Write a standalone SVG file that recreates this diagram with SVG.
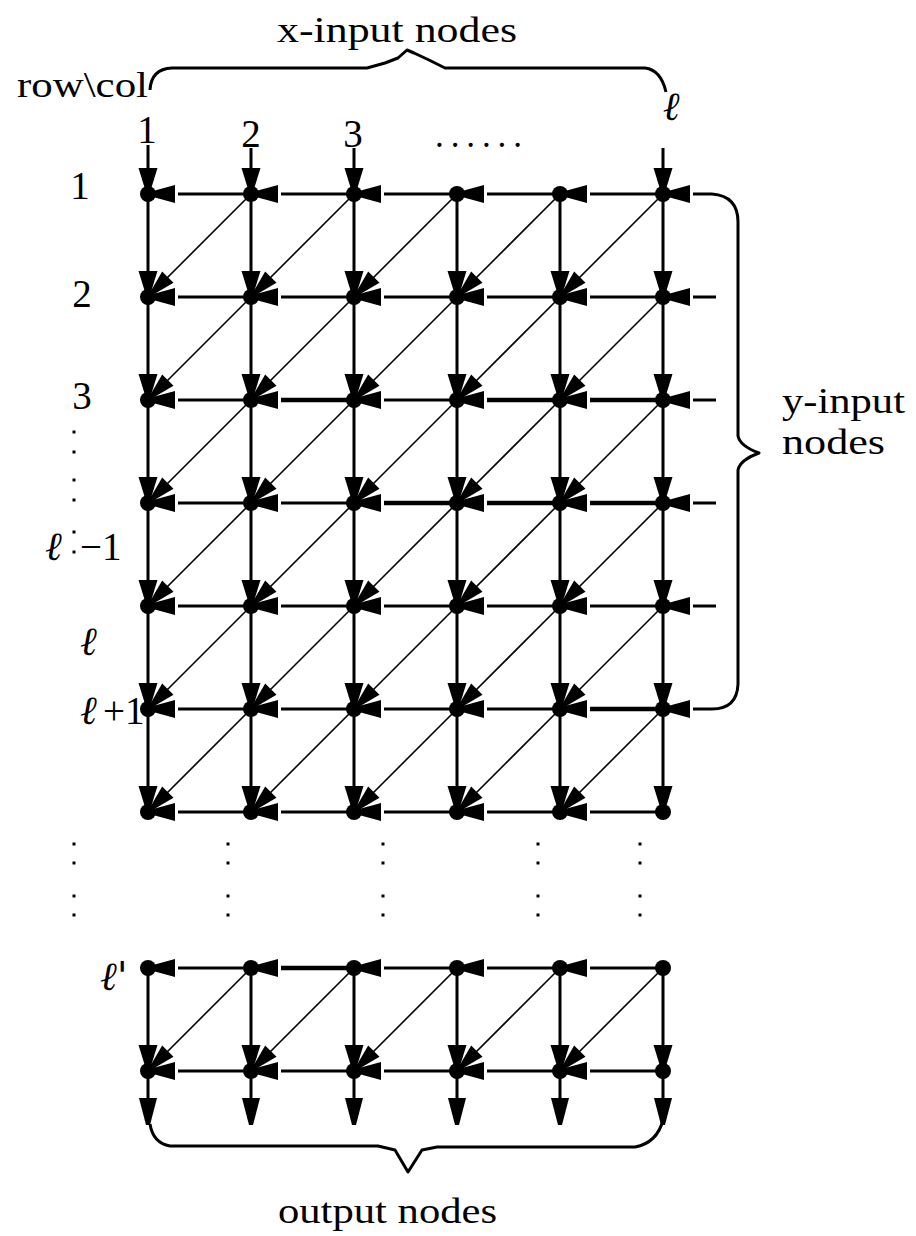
<svg xmlns="http://www.w3.org/2000/svg" xmlns:xlink="http://www.w3.org/1999/xlink" width="916" height="1236" viewBox="0 0 916 1236">
<style>
.t{font-family:"Liberation Serif","DejaVu Serif",serif;font-size:35px;fill:#000}
.d{font-family:"Liberation Serif","DejaVu Serif",serif;font-size:39px;fill:#000}
.l{font-family:"DejaVu Serif","Liberation Serif",serif;font-size:40px;font-style:italic;fill:#000}
.v{stroke:#000;stroke-width:3;fill:none}
.h{stroke:#000;stroke-width:3;fill:none}
.hb{stroke:#000;stroke-width:4.5;fill:none}
.g{stroke:#000;stroke-width:1.6;fill:none}
.br{stroke:#000;stroke-width:3;fill:none;stroke-linejoin:round}
</style>
<defs>
<circle id="dot" r="8" fill="#000"/>
<path id="ad" d="M-3,0 L-9.5,-21 L9.5,-21 L3,0 Z" fill="#000"/>
<path id="ao" d="M-2,0 L-9,-27 L9,-27 L2,0 Z" fill="#000"/>
<path id="al" d="M0,-3 L22,-9 L22,9 L0,3 Z" fill="#000"/>
<path id="ag" d="M0,-2.5 L21,-8 L21,8 L0,2.5 Z" fill="#000"/>
<rect id="pt" x="-1.5" y="-1.5" width="3" height="3" fill="#000"/>
</defs>
<rect width="916" height="1236" fill="#fff"/>

<g id="labels">
<text class="t" x="277" y="42" textLength="240" lengthAdjust="spacingAndGlyphs">x-input nodes</text>
<text class="t" x="17" y="97" textLength="131" lengthAdjust="spacingAndGlyphs">row\col</text>
<text class="d" x="147" y="143" text-anchor="middle">1</text>
<text class="d" x="251" y="147" text-anchor="middle">2</text>
<text class="d" x="353" y="147" text-anchor="middle">3</text>
<text class="t" x="435" y="147" textLength="87" lengthAdjust="spacing">......</text>
<text class="l" x="671" y="120" text-anchor="middle">ℓ</text>
<text class="d" x="80" y="199" text-anchor="middle">1</text>
<text class="d" x="82" y="307" text-anchor="middle">2</text>
<text class="d" x="82" y="409" text-anchor="middle">3</text>
<text class="l" x="45" y="560">ℓ</text>
<text class="d" x="80" y="560">−1</text>
<text class="l" x="80" y="655">ℓ</text>
<text class="l" x="80" y="724">ℓ</text>
<text class="d" x="103" y="724" font-size="35">+1</text>
<text class="l" x="100" y="990">ℓ'</text>
<text class="t" x="782" y="413" textLength="123" lengthAdjust="spacingAndGlyphs">y-input</text>
<text class="t" x="782" y="454" textLength="103" lengthAdjust="spacingAndGlyphs">nodes</text>
<text class="t" x="278" y="1223" textLength="219" lengthAdjust="spacingAndGlyphs">output nodes</text>
</g>

<g id="ellipsis">
<use href="#pt" x="74" y="432"/><use href="#pt" x="74" y="452"/><use href="#pt" x="74" y="480"/><use href="#pt" x="74" y="500"/><use href="#pt" x="74" y="532"/><use href="#pt" x="74" y="552"/>
<use href="#pt" x="74" y="844"/><use href="#pt" x="74" y="863"/><use href="#pt" x="74" y="896"/><use href="#pt" x="74" y="915"/>
<use href="#pt" x="228" y="844"/><use href="#pt" x="228" y="863"/><use href="#pt" x="228" y="896"/><use href="#pt" x="228" y="915"/>
<use href="#pt" x="383" y="844"/><use href="#pt" x="383" y="863"/><use href="#pt" x="383" y="896"/><use href="#pt" x="383" y="915"/>
<use href="#pt" x="538" y="844"/><use href="#pt" x="538" y="863"/><use href="#pt" x="538" y="896"/><use href="#pt" x="538" y="915"/>
<use href="#pt" x="640" y="844"/><use href="#pt" x="640" y="863"/><use href="#pt" x="640" y="896"/><use href="#pt" x="640" y="915"/>
</g>

<g id="braces">
<path class="br" d="M150,90 Q151,69 172,68 H367 L385,63 L398,58 L407,50 L414,53 L429,60 L445,68 H645 Q661,70 666,92"/>
<path class="br" d="M693,194 H712 Q738,196 738,222 V436 Q740,446 759,453 Q740,460 738,470 V684 Q737,709 712,709 H693"/>
<path class="br" d="M150,1124 Q153,1143 170,1146 H378 L395,1150 L408,1172 L422,1150 L437,1147 H635 Q657,1143 663,1120"/>
</g>

<g id="connectors">
<path class="v" d="M148,145 V812 M251,148 V812 M354,148 V812 M457,194 V812 M560,194 V812 M663,148 V812"/>
<path class="v" d="M148,968 V1115 M251,968 V1115 M354,968 V1115 M457,968 V1115 M560,968 V1115 M663,968 V1115"/>
<path class="h" d="M178,194 H251 M281,194 H354 M384,194 H457 M487,194 H560 M590,194 H663"/>
<path class="h" d="M178,297 H251 M281,297 H354 M384,297 H457 M487,297 H560 M590,297 H663 M693,297 H716"/>
<path class="h" d="M178,400 H251 M384,400 H457 M693,400 H716"/>
<path class="hb" d="M281,400 H354 M487,400 H560 M590,400 H663"/>
<path class="h" d="M178,503 H251 M281,503 H354 M693,503 H716"/>
<path class="hb" d="M384,503 H457 M487,503 H560 M590,503 H663"/>
<path class="h" d="M178,606 H251 M281,606 H354 M384,606 H457 M487,606 H560 M590,606 H663 M693,606 H716"/>
<path class="h" d="M178,709 H251 M281,709 H354 M384,709 H457 M487,709 H560"/>
<path class="hb" d="M590,709 H663"/>
<path class="h" d="M178,812 H251 M281,812 H354 M384,812 H457 M487,812 H560 M590,812 H663"/>
<path class="h" d="M178,968 H251 M384,968 H457 M487,968 H560 M590,968 H663"/>
<path class="hb" d="M281,968 H354"/>
<path class="h" d="M178,1071 H251 M281,1071 H354 M384,1071 H457 M487,1071 H560 M590,1071 H663"/>
<path class="g" d="M251,194 L156,289 M354,194 L259,289 M457,194 L362,289 M560,194 L465,289 M663,194 L568,289"/>
<path class="g" d="M251,297 L156,392 M354,297 L259,392 M457,297 L362,392 M560,297 L465,392 M663,297 L568,392"/>
<path class="g" d="M251,400 L156,495 M354,400 L259,495 M457,400 L362,495 M560,400 L465,495 M663,400 L568,495"/>
<path class="g" d="M251,503 L156,598 M354,503 L259,598 M457,503 L362,598 M560,503 L465,598 M663,503 L568,598"/>
<path class="g" d="M251,606 L156,701 M354,606 L259,701 M457,606 L362,701 M560,606 L465,701 M663,606 L568,701"/>
<path class="g" d="M251,709 L156,804 M354,709 L259,804 M457,709 L362,804 M560,709 L465,804 M663,709 L568,804"/>
<path class="g" d="M251,968 L156,1063 M354,968 L259,1063 M457,968 L362,1063 M560,968 L465,1063 M663,968 L568,1063"/>
<use href="#ao" x="148" y="1125"/><use href="#ao" x="251" y="1125"/><use href="#ao" x="354" y="1125"/><use href="#ao" x="457" y="1125"/><use href="#ao" x="560" y="1125"/><use href="#ao" x="663" y="1125"/>
</g>

<g id="nodes">
<g id="n1-1"><use href="#ad" x="148" y="189"/><use href="#al" x="153" y="194"/><use href="#dot" x="148" y="194"/></g>
<g id="n1-2"><use href="#ad" x="251" y="189"/><use href="#al" x="256" y="194"/><use href="#dot" x="251" y="194"/></g>
<g id="n1-3"><use href="#ad" x="354" y="189"/><use href="#al" x="359" y="194"/><use href="#dot" x="354" y="194"/></g>
<g id="n1-4"><use href="#al" x="462" y="194"/><use href="#dot" x="457" y="194"/></g>
<g id="n1-5"><use href="#al" x="565" y="194"/><use href="#dot" x="560" y="194"/></g>
<g id="n1-6"><use href="#ad" x="663" y="189"/><use href="#al" x="668" y="194"/><use href="#dot" x="663" y="194"/></g>

<g id="n2-1"><use href="#ad" x="148" y="292"/><use href="#al" x="153" y="297"/><use href="#ag" transform="translate(153,292) rotate(-45)"/><use href="#dot" x="148" y="297"/></g>
<g id="n2-2"><use href="#ad" x="251" y="292"/><use href="#al" x="256" y="297"/><use href="#ag" transform="translate(256,292) rotate(-45)"/><use href="#dot" x="251" y="297"/></g>
<g id="n2-3"><use href="#ad" x="354" y="292"/><use href="#al" x="359" y="297"/><use href="#ag" transform="translate(359,292) rotate(-45)"/><use href="#dot" x="354" y="297"/></g>
<g id="n2-4"><use href="#ad" x="457" y="292"/><use href="#al" x="462" y="297"/><use href="#ag" transform="translate(462,292) rotate(-45)"/><use href="#dot" x="457" y="297"/></g>
<g id="n2-5"><use href="#ad" x="560" y="292"/><use href="#al" x="565" y="297"/><use href="#ag" transform="translate(565,292) rotate(-45)"/><use href="#dot" x="560" y="297"/></g>
<g id="n2-6"><use href="#ad" x="663" y="292"/><use href="#al" x="668" y="297"/><use href="#dot" x="663" y="297"/></g>

<g id="n3-1"><use href="#ad" x="148" y="395"/><use href="#al" x="153" y="400"/><use href="#ag" transform="translate(153,395) rotate(-45)"/><use href="#dot" x="148" y="400"/></g>
<g id="n3-2"><use href="#ad" x="251" y="395"/><use href="#al" x="256" y="400"/><use href="#ag" transform="translate(256,395) rotate(-45)"/><use href="#dot" x="251" y="400"/></g>
<g id="n3-3"><use href="#ad" x="354" y="395"/><use href="#al" x="359" y="400"/><use href="#ag" transform="translate(359,395) rotate(-45)"/><use href="#dot" x="354" y="400"/></g>
<g id="n3-4"><use href="#ad" x="457" y="395"/><use href="#al" x="462" y="400"/><use href="#ag" transform="translate(462,395) rotate(-45)"/><use href="#dot" x="457" y="400"/></g>
<g id="n3-5"><use href="#ad" x="560" y="395"/><use href="#al" x="565" y="400"/><use href="#ag" transform="translate(565,395) rotate(-45)"/><use href="#dot" x="560" y="400"/></g>
<g id="n3-6"><use href="#ad" x="663" y="395"/><use href="#al" x="668" y="400"/><use href="#dot" x="663" y="400"/></g>

<g id="n4-1"><use href="#ad" x="148" y="498"/><use href="#al" x="153" y="503"/><use href="#ag" transform="translate(153,498) rotate(-45)"/><use href="#dot" x="148" y="503"/></g>
<g id="n4-2"><use href="#ad" x="251" y="498"/><use href="#al" x="256" y="503"/><use href="#ag" transform="translate(256,498) rotate(-45)"/><use href="#dot" x="251" y="503"/></g>
<g id="n4-3"><use href="#ad" x="354" y="498"/><use href="#al" x="359" y="503"/><use href="#ag" transform="translate(359,498) rotate(-45)"/><use href="#dot" x="354" y="503"/></g>
<g id="n4-4"><use href="#ad" x="457" y="498"/><use href="#al" x="462" y="503"/><use href="#ag" transform="translate(462,498) rotate(-45)"/><use href="#dot" x="457" y="503"/></g>
<g id="n4-5"><use href="#ad" x="560" y="498"/><use href="#al" x="565" y="503"/><use href="#ag" transform="translate(565,498) rotate(-45)"/><use href="#dot" x="560" y="503"/></g>
<g id="n4-6"><use href="#ad" x="663" y="498"/><use href="#al" x="668" y="503"/><use href="#dot" x="663" y="503"/></g>

<g id="n5-1"><use href="#ad" x="148" y="601"/><use href="#al" x="153" y="606"/><use href="#ag" transform="translate(153,601) rotate(-45)"/><use href="#dot" x="148" y="606"/></g>
<g id="n5-2"><use href="#ad" x="251" y="601"/><use href="#al" x="256" y="606"/><use href="#ag" transform="translate(256,601) rotate(-45)"/><use href="#dot" x="251" y="606"/></g>
<g id="n5-3"><use href="#ad" x="354" y="601"/><use href="#al" x="359" y="606"/><use href="#ag" transform="translate(359,601) rotate(-45)"/><use href="#dot" x="354" y="606"/></g>
<g id="n5-4"><use href="#ad" x="457" y="601"/><use href="#al" x="462" y="606"/><use href="#ag" transform="translate(462,601) rotate(-45)"/><use href="#dot" x="457" y="606"/></g>
<g id="n5-5"><use href="#ad" x="560" y="601"/><use href="#al" x="565" y="606"/><use href="#ag" transform="translate(565,601) rotate(-45)"/><use href="#dot" x="560" y="606"/></g>
<g id="n5-6"><use href="#ad" x="663" y="601"/><use href="#al" x="668" y="606"/><use href="#dot" x="663" y="606"/></g>

<g id="n6-1"><use href="#ad" x="148" y="704"/><use href="#al" x="153" y="709"/><use href="#ag" transform="translate(153,704) rotate(-45)"/><use href="#dot" x="148" y="709"/></g>
<g id="n6-2"><use href="#ad" x="251" y="704"/><use href="#al" x="256" y="709"/><use href="#ag" transform="translate(256,704) rotate(-45)"/><use href="#dot" x="251" y="709"/></g>
<g id="n6-3"><use href="#ad" x="354" y="704"/><use href="#al" x="359" y="709"/><use href="#ag" transform="translate(359,704) rotate(-45)"/><use href="#dot" x="354" y="709"/></g>
<g id="n6-4"><use href="#ad" x="457" y="704"/><use href="#al" x="462" y="709"/><use href="#ag" transform="translate(462,704) rotate(-45)"/><use href="#dot" x="457" y="709"/></g>
<g id="n6-5"><use href="#ad" x="560" y="704"/><use href="#al" x="565" y="709"/><use href="#ag" transform="translate(565,704) rotate(-45)"/><use href="#dot" x="560" y="709"/></g>
<g id="n6-6"><use href="#ad" x="663" y="704"/><use href="#al" x="668" y="709"/><use href="#dot" x="663" y="709"/></g>

<g id="n7-1"><use href="#ad" x="148" y="807"/><use href="#al" x="153" y="812"/><use href="#ag" transform="translate(153,807) rotate(-45)"/><use href="#dot" x="148" y="812"/></g>
<g id="n7-2"><use href="#ad" x="251" y="807"/><use href="#al" x="256" y="812"/><use href="#ag" transform="translate(256,807) rotate(-45)"/><use href="#dot" x="251" y="812"/></g>
<g id="n7-3"><use href="#ad" x="354" y="807"/><use href="#al" x="359" y="812"/><use href="#ag" transform="translate(359,807) rotate(-45)"/><use href="#dot" x="354" y="812"/></g>
<g id="n7-4"><use href="#ad" x="457" y="807"/><use href="#al" x="462" y="812"/><use href="#ag" transform="translate(462,807) rotate(-45)"/><use href="#dot" x="457" y="812"/></g>
<g id="n7-5"><use href="#ad" x="560" y="807"/><use href="#al" x="565" y="812"/><use href="#ag" transform="translate(565,807) rotate(-45)"/><use href="#dot" x="560" y="812"/></g>
<g id="n7-6"><use href="#ad" x="663" y="807"/><use href="#dot" x="663" y="812"/></g>

<g id="nL-1"><use href="#al" x="153" y="968"/><use href="#dot" x="148" y="968"/></g>
<g id="nL-2"><use href="#al" x="256" y="968"/><use href="#dot" x="251" y="968"/></g>
<g id="nL-3"><use href="#al" x="359" y="968"/><use href="#dot" x="354" y="968"/></g>
<g id="nL-4"><use href="#al" x="462" y="968"/><use href="#dot" x="457" y="968"/></g>
<g id="nL-5"><use href="#al" x="565" y="968"/><use href="#dot" x="560" y="968"/></g>
<g id="nL-6"><use href="#dot" x="663" y="968"/></g>

<g id="nM-1"><use href="#ad" x="148" y="1066"/><use href="#al" x="153" y="1071"/><use href="#ag" transform="translate(153,1066) rotate(-45)"/><use href="#dot" x="148" y="1071"/></g>
<g id="nM-2"><use href="#ad" x="251" y="1066"/><use href="#al" x="256" y="1071"/><use href="#ag" transform="translate(256,1066) rotate(-45)"/><use href="#dot" x="251" y="1071"/></g>
<g id="nM-3"><use href="#ad" x="354" y="1066"/><use href="#al" x="359" y="1071"/><use href="#ag" transform="translate(359,1066) rotate(-45)"/><use href="#dot" x="354" y="1071"/></g>
<g id="nM-4"><use href="#ad" x="457" y="1066"/><use href="#al" x="462" y="1071"/><use href="#ag" transform="translate(462,1066) rotate(-45)"/><use href="#dot" x="457" y="1071"/></g>
<g id="nM-5"><use href="#ad" x="560" y="1066"/><use href="#al" x="565" y="1071"/><use href="#ag" transform="translate(565,1066) rotate(-45)"/><use href="#dot" x="560" y="1071"/></g>
<g id="nM-6"><use href="#ad" x="663" y="1066"/><use href="#dot" x="663" y="1071"/></g>
</g>
</svg>
